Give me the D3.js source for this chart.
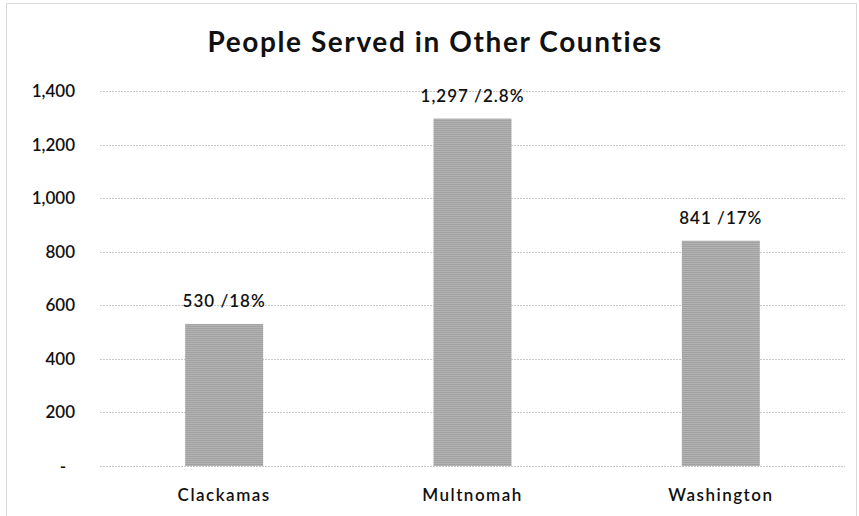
<!DOCTYPE html>
<html><head><meta charset="utf-8">
<script src="https://cdn.jsdelivr.net/npm/d3@7"></script>
<style>body{margin:0;background:#fff}svg{display:block}</style>
</head><body>
<svg id="c" width="859" height="516"></svg>
<script>
const categories = ["Clackamas", "Multnomah", "Washington"];
const values = [530, 1297, 841];
const percents = ["18%", "2.8%", "17%"];
const yTicks = [0, 200, 400, 600, 800, 1000, 1200, 1400];
const title = "People Served in Other Counties";

const svg = d3.select("#c");
const font = "Lato, 'Open Sans', sans-serif";
const plot = {left: 100, right: 845, top: 91, bottom: 466};

const defs = svg.append("defs");
const pat = defs.append("pattern").attr("id", "pat").attr("width", 4).attr("height", 4)
  .attr("patternUnits", "userSpaceOnUse");
pat.append("rect").attr("width", 4).attr("height", 4).attr("fill", "#b3b3b3");
pat.append("path").attr("d", "M0,1 L1,0 L2,1 L3,0 L4,1 M0,3 L1,2 L2,3 L3,2 L4,3")
  .attr("stroke", "#999").attr("stroke-width", 0.7).attr("fill", "none");

svg.append("rect").attr("x", 6.5).attr("y", 3.5).attr("width", 850).attr("height", 530)
  .attr("fill", "none").attr("stroke", "#d9d9d9");

const x = d3.scaleBand().domain(categories).range([plot.left, plot.right])
  .paddingInner(0.686).paddingOuter(0.343);
const y = d3.scaleLinear().domain([0, 1400]).range([plot.bottom, plot.top]);

svg.append("g").selectAll("line").data(yTicks).join("line")
  .attr("x1", plot.left).attr("x2", plot.right)
  .attr("y1", d => Math.round(y(d)) + 0.5).attr("y2", d => Math.round(y(d)) + 0.5)
  .attr("stroke", "#c8c8c8").attr("stroke-dasharray", "2,1");

const yAxis = d3.axisLeft(y).tickValues(yTicks).tickSize(0).tickPadding(0)
  .tickFormat(d => d === 0 ? "-" : d3.format(",")(d));
const ga = svg.append("g").attr("transform", "translate(75,0)").call(yAxis);
ga.select(".domain").remove();
ga.selectAll("text").attr("font-family", font).attr("font-size", 17).attr("fill", "#111")
  .attr("font-weight", 600)
  .attr("dx", d => d === 0 ? -9 : 0);

svg.append("g").selectAll("rect").data(values).join("rect")
  .attr("x", (d, i) => x(categories[i])).attr("width", x.bandwidth())
  .attr("y", d => y(d)).attr("height", d => y(0) - y(d))
  .attr("fill", "url(#pat)");

svg.append("g").selectAll("text").data(values).join("text")
  .attr("x", (d, i) => x(categories[i]) + x.bandwidth() / 2)
  .attr("y", d => y(d) - 17)
  .attr("text-anchor", "middle").attr("font-family", font).attr("font-size", 17)
  .attr("font-weight", 600).attr("fill", "#111").attr("letter-spacing", 1)
  .text((d, i) => d3.format(",")(d) + " /" + percents[i]);

const xAxis = d3.axisBottom(x).tickSize(0).tickPadding(0);
const gx = svg.append("g").attr("transform", `translate(0,${plot.bottom})`).call(xAxis);
gx.select(".domain").remove();
gx.selectAll("text").attr("font-family", font).attr("font-size", 17).attr("fill", "#111")
  .attr("font-weight", 600).attr("letter-spacing", 1.5).attr("dy", 0).attr("y", 35);

svg.append("text").attr("x", 435).attr("y", 52).attr("text-anchor", "middle")
  .attr("font-family", font).attr("font-size", 28).attr("font-weight", "bold").attr("fill", "#111")
  .attr("letter-spacing", 1.6)
  .text(title);
</script>
</body></html>
